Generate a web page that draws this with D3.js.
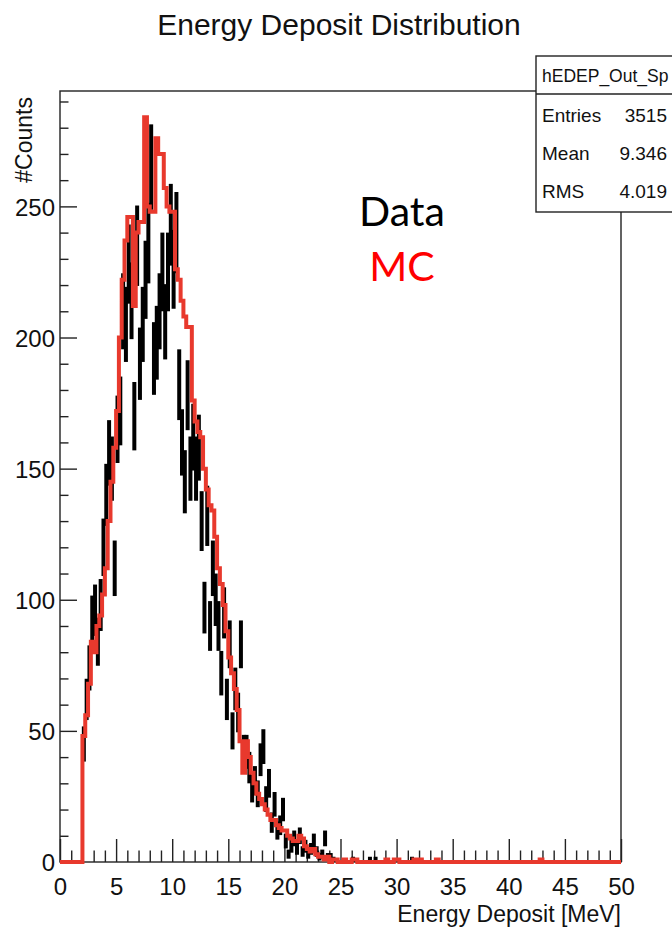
<!DOCTYPE html>
<html lang="en">
  <head>
    <meta charset="UTF-8" />
    <title>Energy Deposit Distribution</title>
    <style>
      body { margin: 0; background: #fff; }
      text { font-family: "Liberation Sans", Arial, Helvetica, sans-serif; fill: #111; }
    </style>
  </head>
  <body>
    <svg width="672" height="929"></svg>
    <script src="https://cdn.jsdelivr.net/npm/d3@7/dist/d3.min.js"></script>
    <script>
      // histogram binning: 200 bins of 0.25 MeV over 0..50, listed values start at 2.0 MeV
      var binWidth = 0.25;
      var nBins = 200;
      var firstEdge = 2.0;

      // MC (red step line), counts per bin from 2.0 MeV
      var mcCounts = [
        48, 56, 68, 84, 80, 90, 94, 102,
        112, 130, 145, 158, 172, 200, 222, 237,
        246, 246, 212, 240, 244, 244, 284, 250,
        248, 248, 276, 270, 270, 257, 250, 248,
        248, 226, 222, 214, 208, 204, 204, 176,
        168, 164, 162, 150, 142, 136, 134, 124,
        112, 106, 98, 88, 78, 72, 66, 58,
        46, 34, 46, 40, 34, 30, 26, 24,
        22, 20, 18, 16, 16, 14, 13, 12,
        12, 10, 9, 8, 8, 10, 9, 6,
        5, 4, 5, 3, 2, 2, 1, 2,
        0, 1, 1, 0, 0, 1, 0, 0,
        1, 1, 0, 0, 0, 0, 0, 0,
        0, 0, 0, 0, 1, 0, 0, 1,
        1, 0, 0, 0, 0, 0, 1, 0,
        1, 0, 0, 0, 0, 0, 1, 0,
        0, 0, 0, 0, 0, 0, 0, 0,
        0, 0, 0, 0, 0, 0, 0, 0,
        0, 0, 0, 0, 0, 0, 0, 0,
        0, 0, 0, 0, 0, 0, 0, 0,
        0, 0, 0, 1
      ];

      // Data (black error bars), counts per bin from 2.0 MeV
      var dataCounts = [
        45, 62, 74, 92, 96, 84, 98, 120,
        140, 156, 150, 112, 165, 172, 210, 205,
        228, 214, 170, 235, 190, 205, 222, 236,
        265, 192, 198, 210, 225, 206, 225, 243,
        226, 240, 182, 160, 145, 178, 150, 162,
        150, 158, 130, 97, 132, 90, 112, 100,
        90, 72, 95, 62, 83, 50, 66, 57,
        83, 42, 42, 36, 28, 31, 26, 39,
        44, 24, 30, 15, 22, 12, 14, 20,
        8, 3, 6, 9, 5, 10, 4, 6,
        3, 5, 8, 4, 2, 3, 9, 2,
        2, 1, 0, 0, 0, 0, 0, 0,
        1, 0, 0, 0, 0, 0, 1, 0,
        1, 0, 0, 0, 0, 0, 0, 0,
        0, 0, 0, 0, 0, 1
      ];

      var xTickLabels = ["0", "5", "10", "15", "20", "25", "30", "35", "40", "45", "50"];
      var yTickLabels = ["0", "50", "100", "150", "200", "250"];
      var statsName = "hEDEP_Out_Sp";
      var statsKeys = ["Entries", "Mean", "RMS"];
      var statsValues = ["3515", "9.346", "4.019"];
      var legendNames = ["Data", "MC"];

      var svg = d3.select("svg");
      var frame = { left: 60, right: 621, top: 91, bottom: 862 };

      var x = d3.scaleLinear().domain([0, 50]).range([frame.left, frame.right]);
      var y = d3.scaleLinear().domain([0, 294]).range([frame.bottom, frame.top]);

      function padBins(list) {
        var out = [];
        var offset = Math.round(firstEdge / binWidth);
        for (var i = 0; i < nBins; i++) {
          var j = i - offset;
          out.push(j >= 0 && j < list.length ? list[j] : 0);
        }
        return out;
      }
      var mc = padBins(mcCounts);
      var dat = padBins(dataCounts);

      // frame box
      svg.append("rect")
        .attr("x", frame.left).attr("y", frame.top)
        .attr("width", frame.right - frame.left).attr("height", frame.bottom - frame.top)
        .attr("fill", "none").attr("stroke", "#222").attr("stroke-width", 1.4);

      // y axis ticks (every 10, major every 50)
      var yAxis = d3.axisLeft(y)
        .tickValues(d3.range(0, 291, 10))
        .tickSize(0)
        .tickFormat("");
      var yg = svg.append("g").attr("transform", "translate(" + frame.left + ",0)").call(yAxis);
      yg.select(".domain").remove();
      yg.selectAll(".tick line")
        .attr("x1", 0)
        .attr("x2", function(d) { return d % 50 === 0 ? 17 : 8.5; })
        .attr("stroke", "#222").attr("stroke-width", 1.4);
      yg.selectAll(".tick").filter(function(d) { return d % 50 === 0; })
        .append("text")
        .attr("x", -5).attr("dy", "0.36em")
        .attr("text-anchor", "end")
        .style("font-size", "24px")
        .text(function(d) { return yTickLabels[d / 50]; });

      // x axis ticks (every 1, major every 5)
      var xAxis = d3.axisBottom(x).tickValues(d3.range(0, 51, 1)).tickSize(0).tickFormat("");
      var xg = svg.append("g").attr("transform", "translate(0," + frame.bottom + ")").call(xAxis);
      xg.select(".domain").remove();
      xg.selectAll(".tick line")
        .attr("y1", 0)
        .attr("y2", function(d) { return d % 5 === 0 ? -23 : -11.5; })
        .attr("stroke", "#222").attr("stroke-width", 1.4);
      xg.selectAll(".tick").filter(function(d) { return d % 5 === 0; })
        .append("text")
        .attr("y", 33)
        .attr("text-anchor", "middle")
        .style("font-size", "24px")
        .text(function(d) { return xTickLabels[d / 5]; });

      // data error bars
      var bins = d3.range(nBins);
      svg.append("g").selectAll("line")
        .data(bins.filter(function(i) { return dat[i] > 0; }))
        .enter().append("line")
        .attr("x1", function(i) { return x((i + 0.5) * binWidth); })
        .attr("x2", function(i) { return x((i + 0.5) * binWidth); })
        .attr("y1", function(i) { return y(dat[i] - Math.sqrt(dat[i])); })
        .attr("y2", function(i) { return y(dat[i] + Math.sqrt(dat[i])); })
        .attr("stroke", "#000").attr("stroke-width", 4);

      // MC step line
      var pts = bins.map(function(i) { return [i * binWidth, mc[i]]; });
      pts.push([nBins * binWidth, mc[nBins - 1]]);
      var step = d3.line()
        .x(function(d) { return x(d[0]); })
        .y(function(d) { return y(d[1]); })
        .curve(d3.curveStepAfter);
      svg.append("path")
        .attr("d", step(pts))
        .attr("fill", "none")
        .attr("stroke", "#e8392d")
        .attr("stroke-width", 4)
        .attr("stroke-linejoin", "miter");

      // title
      svg.append("text")
        .attr("x", 339).attr("y", 35)
        .attr("text-anchor", "middle")
        .style("font-size", "30px")
        .text("Energy Deposit Distribution");

      // axis titles
      svg.append("text")
        .attr("x", frame.right).attr("y", 922)
        .attr("text-anchor", "end")
        .style("font-size", "23px")
        .text("Energy Deposit [MeV]");
      svg.append("text")
        .attr("transform", "translate(32," + 97 + ") rotate(-90)")
        .attr("text-anchor", "end")
        .style("font-size", "23px")
        .text("#Counts");

      // stats box
      var sb = svg.append("g");
      sb.append("rect")
        .attr("x", 536).attr("y", 56).attr("width", 150).attr("height", 156)
        .attr("fill", "#fff").attr("stroke", "#222").attr("stroke-width", 1.4);
      sb.append("line")
        .attr("x1", 536).attr("x2", 680).attr("y1", 94).attr("y2", 94)
        .attr("stroke", "#222").attr("stroke-width", 1.4);
      sb.append("text").attr("x", 542).attr("y", 82)
        .style("font-size", "17.5px").text(statsName);
      statsKeys.forEach(function(k, i) {
        sb.append("text").attr("x", 542).attr("y", 122 + i * 38)
          .style("font-size", "19px").text(k);
        sb.append("text").attr("x", 667).attr("y", 122 + i * 38)
          .attr("text-anchor", "end")
          .style("font-size", "19px").text(statsValues[i]);
      });

      // legend words
      svg.append("text")
        .attr("x", 402).attr("y", 226)
        .attr("text-anchor", "middle")
        .style("font-family", "Lato, 'Open Sans', sans-serif")
        .style("font-size", "41px")
        .style("fill", "#000")
        .text(legendNames[0]);
      svg.append("text")
        .attr("x", 402).attr("y", 281)
        .attr("text-anchor", "middle")
        .style("font-family", "Lato, 'Open Sans', sans-serif")
        .style("font-size", "41px")
        .style("fill", "#ff0000")
        .text(legendNames[1]);
    </script>
  </body>
</html>
